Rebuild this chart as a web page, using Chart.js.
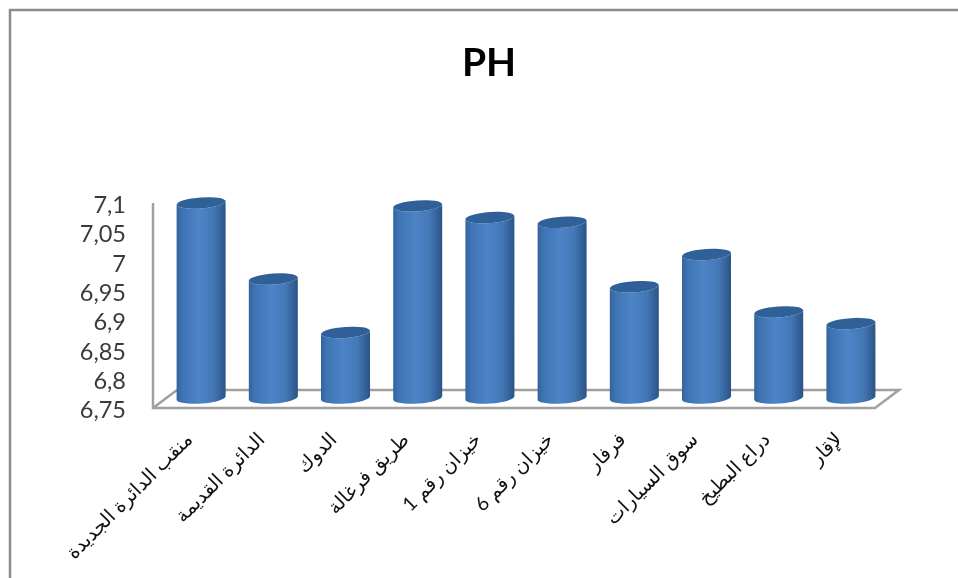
<!DOCTYPE html>
<html>
<head>
<meta charset="utf-8">
<title>PH</title>
<script src="https://cdn.jsdelivr.net/npm/chart.js@4"></script>
<style>
  html, body { margin: 0; padding: 0; background: #fff; }
  canvas { display: block; direction: rtl; }
</style>
</head>
<body>
<canvas id="ph-chart" dir="rtl" width="958" height="578"></canvas>
<script>
const title = 'PH';
const categories = ['منقب الدائرة الجديدة', 'الدائرة القديمة', 'الدوك', 'طريق فرغالة', 'خيزان رقم 1', 'خيزان رقم 6', 'فرفار', 'سوق السيارات', 'دراع البطيخ', 'لإقار'];
const phValues = [7.083, 6.953, 6.862, 7.078, 7.058, 7.05, 6.94, 6.995, 6.897, 6.877];
const yMin = 6.75;
const yMax = 7.1;
const yStep = 0.05;

// how far the floor runs back, bars stand half way along it
const depthX = 24;
const depthY = 18;
const barShiftX = 12;
const barShiftY = 10;
const tilt = -0.07;
const AXIS_GREY = '#a0a0a0';

// bars are cylinders, the library still gives the x, y, base and width
Chart.BarElement.prototype.draw = function (ctx) {
  const { x, y, base, width } = this.getProps(['x', 'y', 'base', 'width']);
  const cx = x + barShiftX;
  const top = y - barShiftY;
  const bottom = base - barShiftY;
  const rx = width / 2;
  const ry = 5.5;
  const dy = Math.sin(tilt) * rx;

  const side = ctx.createLinearGradient(cx - rx, 0, cx + rx, 0);
  side.addColorStop(0, '#33639c');
  side.addColorStop(0.12, '#3f74b4');
  side.addColorStop(0.45, '#4d84c8');
  side.addColorStop(0.75, '#4477b6');
  side.addColorStop(1, '#2a5486');

  ctx.save();
  ctx.beginPath();
  ctx.ellipse(cx, top, rx, ry, tilt, Math.PI, 0, true);
  ctx.lineTo(cx + rx, bottom + dy);
  ctx.ellipse(cx, bottom, rx, ry, tilt, 0, Math.PI);
  ctx.closePath();
  ctx.fillStyle = side;
  ctx.fill();

  ctx.beginPath();
  ctx.ellipse(cx, top, rx, ry, tilt, 0, Math.PI * 2);
  ctx.fillStyle = '#2f6098';
  ctx.fill();
  ctx.restore();
};

const floorPlugin = {
  id: 'floor',
  beforeDraw(chart) {
    const { ctx, scales } = chart;
    const left = scales.x.left;
    const right = scales.x.right;
    const front = scales.y.bottom;
    const top = scales.y.top;
    ctx.save();
    // picture frame
    ctx.strokeStyle = '#8c8c8c';
    ctx.lineWidth = 2.5;
    ctx.beginPath();
    ctx.moveTo(10, 578);
    ctx.lineTo(10, 10);
    ctx.lineTo(958, 10);
    ctx.stroke();
    // floor and left wall
    ctx.strokeStyle = AXIS_GREY;
    ctx.lineWidth = 2.5;
    ctx.beginPath();
    ctx.moveTo(left, top);
    ctx.lineTo(left, front);
    ctx.lineTo(right, front);
    ctx.lineTo(right + depthX, front - depthY);
    ctx.lineTo(left + depthX, front - depthY);
    ctx.lineTo(left, front);
    ctx.stroke();
    ctx.restore();
  }
};

new Chart(document.getElementById('ph-chart'), {
  type: 'bar',
  data: {
    labels: categories,
    datasets: [{
      label: title,
      data: phValues,
      base: yMin,
      backgroundColor: '#4d84c8',
      barPercentage: 0.68,
      categoryPercentage: 1,
      clip: false
    }]
  },
  options: {
    responsive: false,
    animation: false,
    layout: { padding: { left: 20, right: 0, top: 0, bottom: 0 } },
    plugins: {
      legend: { display: false },
      tooltip: { enabled: false },
      title: {
        display: true,
        text: title,
        color: '#000',
        font: { family: 'Lato', size: 39, weight: 'bold', lineHeight: 1.2 },
        padding: { top: 40, bottom: 116.2 }
      }
    },
    scales: {
      x: {
        grid: { display: false },
        border: { display: false },
        afterFit(scale) { scale.height = 170; },
        ticks: {
          autoSkip: false,
          minRotation: 45,
          maxRotation: 45,
          padding: 12,
          color: '#111',
          font: { family: 'Lato, "DejaVu Sans"', size: 19.5 }
        }
      },
      y: {
        min: yMin,
        max: yMax,
        grid: { display: false, drawTicks: false },
        border: { display: false },
        afterFit(scale) { scale.width = 133; },
        ticks: {
          autoSkip: false,
          stepSize: yStep,
          padding: 27,
          labelOffset: 2.5,
          color: '#3a3a3a',
          font: { family: 'Lato', size: 23.5 },
          callback: (v) => String(Number(v.toFixed(2))).replace('.', ',')
        }
      },
      // empty axis, only keeps the floor clear of the right margin
      spacer: {
        position: 'right',
        grid: { display: false },
        border: { display: false },
        ticks: { display: false },
        afterFit(scale) { scale.width = 83; }
      }
    }
  },
  plugins: [floorPlugin]
});
</script>
</body>
</html>
